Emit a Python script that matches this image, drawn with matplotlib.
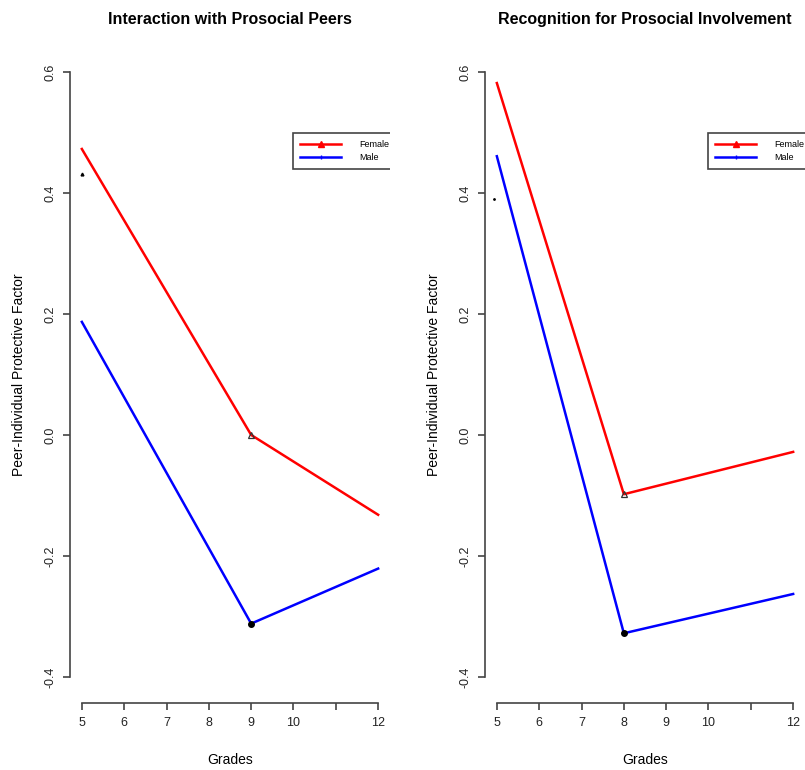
import matplotlib
matplotlib.use("Agg")
import matplotlib.pyplot as plt
from matplotlib.lines import Line2D

plt.rcParams['font.family'] = ['Liberation Sans', 'DejaVu Sans']

# data
grade_ticks = [5, 6, 7, 8, 9, 10, 11, 12]
grade_labels = ['5', '6', '7', '8', '9', '10', '', '12']
y_ticks = [-0.4, -0.2, 0.0, 0.2, 0.4, 0.6]

titles = ['Interaction with Prosocial Peers', 'Recognition for Prosocial Involvement']
grades = [[5, 9, 12], [5, 8, 12]]
female = [[0.473, 0.0, -0.132], [0.582, -0.098, -0.028]]
male = [[0.187, -0.312, -0.221], [0.461, -0.328, -0.263]]
stray = [(5, 0.431, '^'), (4.93, 0.39, '.')]

fig = plt.figure(figsize=(8.05, 7.70), dpi=100)
lefts = [70 / 805, 485 / 805]
axc = '#444444'

for i in range(2):
    ax = fig.add_axes([lefts[i], 69 / 770, 320 / 805, 653 / 770])
    g = grades[i]
    ax.plot(g, female[i], color='red', lw=1.8, label='Female')
    ax.plot(g, male[i], color='blue', lw=1.8, label='Male')
    ax.plot(g[1], female[i][1], marker='^', ms=5, mfc='none', mec='#333333', mew=0.9)
    ax.plot(g[1], male[i][1], marker='o', ms=4, color='black')
    sx, sy, sm = stray[i]
    ax.plot(sx, sy, marker=sm, ms=2, color='black', clip_on=False)

    ax.set_xlim(4.72, 12.28)
    ax.set_ylim(-0.44, 0.64)
    for s in ['top', 'right']:
        ax.spines[s].set_visible(False)
    ax.spines['left'].set_bounds(-0.4, 0.6)
    ax.spines['bottom'].set_bounds(5, 12)
    ax.spines['bottom'].set_position(('outward', 1.5))
    for s in ['left', 'bottom']:
        ax.spines[s].set_color(axc)
        ax.spines[s].set_linewidth(1.2)

    ax.set_xticks(grade_ticks)
    ax.set_xticklabels(grade_labels)
    ax.set_yticks(y_ticks)
    ax.set_yticklabels(['%.1f' % v for v in y_ticks], rotation=90, va='center')
    ax.tick_params(axis='both', length=5, width=1.2, color=axc, labelsize=9,
                   labelcolor='#222222')
    ax.tick_params(axis='y', pad=5)
    ax.tick_params(axis='x', pad=5)

    ax.set_title(titles[i], fontsize=11.5, fontweight='bold', pad=17)
    ax.set_xlabel('Grades', fontsize=10, labelpad=17)
    ax.set_ylabel('Peer-Individual Protective Factor', fontsize=10, labelpad=13)

    handles = [
        Line2D([], [], color='red', lw=1.8, marker='^', ms=4),
        Line2D([], [], color='blue', lw=1.8, marker='|', ms=3),
    ]
    leg = ax.legend(handles, ['Female', 'Male'], loc='upper left',
                    bbox_to_anchor=(0.697, 0.87), borderaxespad=0,
                    fontsize=6.5, frameon=True,
                    fancybox=False, edgecolor='#444444', framealpha=1,
                    handlelength=4.5, handletextpad=2, borderpad=0.8,
                    labelspacing=0.45, numpoints=1)
    leg.get_frame().set_linewidth(1.2)
    leg.get_frame().set_clip_on(True)
    leg.get_frame().set_clip_box(ax.bbox)
    for t in leg.get_texts():
        t.set_clip_on(True)
        t.set_clip_box(ax.bbox)

fig.savefig('out.png', dpi=100)
